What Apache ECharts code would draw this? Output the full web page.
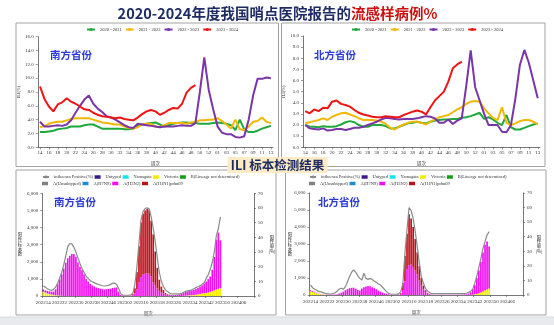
<!DOCTYPE html>
<html><head><meta charset="utf-8">
<script src="https://cdn.jsdelivr.net/npm/echarts@6/dist/echarts.min.js"></script>
<style>html,body{margin:0;padding:0;background:#fff}#c{width:554px;height:325px}</style>
</head><body><div id="c"></div>
<script>
// ---------- top charts: ILI% by week ----------
const topWeeks = ['14','15','16','17','18','19','20','21','22','23','24','25','26','27','28','29','30','31','32','33','34','35','36','37','38','39','40','41','42','43','44','45','46','47','48','49','50','51','52','53','01','02','03','04','05','06','07','08','09','10','11','12','13'];
const seasonNames = ['2020 - 2021','2021 - 2022','2022 - 2023','2023 - 2024'];
const seasonColors = ['#1fa83c','#f2b705','#7a35a6','#ee1515'];

const south2020 = [2.2,2.2,2.3,2.4,2.6,2.7,2.8,3.0,3.0,3.0,3.2,3.3,3.3,3.0,2.7,2.7,2.7,2.7,2.7,2.6,2.6,2.7,3.1,3.3,3.4,3.5,3.6,3.3,3.0,3.2,3.4,3.5,3.6,3.6,3.5,3.5,3.4,3.4,3.4,3.5,3.6,3.5,3.4,3.2,2.5,4.0,2.6,2.2,2.2,2.4,2.7,2.9,3.1];
const south2021 = [2.9,3.1,3.4,3.6,3.7,3.7,3.9,4.1,4.2,4.2,4.2,4.2,4.0,3.8,3.6,3.5,3.4,3.3,3.3,3.0,2.8,2.7,2.9,3.3,3.4,3.4,3.0,2.9,3.2,3.5,3.5,3.5,3.5,3.4,3.6,3.7,3.9,3.9,4.0,4.0,4.2,3.8,3.3,2.7,4.0,2.6,2.5,3.0,3.7,3.8,4.3,3.7,3.5];
const south2022 = [3.7,3.0,3.0,3.1,3.2,3.1,3.3,3.9,5.0,6.0,6.9,7.5,6.3,5.6,5.1,4.5,4.3,4.0,3.6,3.2,2.9,2.8,3.4,3.3,3.2,3.1,3.0,2.9,3.0,3.0,3.0,3.1,3.2,3.1,3.1,3.5,8.0,13.0,8.3,5.5,3.0,2.1,1.9,1.9,1.5,1.4,1.6,4.0,7.5,9.9,9.9,10.1,10.0];
const south2023 = [8.8,7.0,5.9,5.2,6.2,6.5,7.1,6.6,6.3,5.9,5.5,5.4,5.0,4.7,4.5,4.4,4.3,4.2,4.3,4.1,4.0,3.9,4.3,4.8,5.2,5.4,5.2,4.7,5.0,5.4,5.7,5.6,6.3,7.9,8.6,9.0];

const north2020 = [2.0,1.85,1.85,1.8,1.9,1.85,1.85,1.9,2.05,2.25,2.35,2.25,2.0,1.85,1.85,2.0,2.0,2.0,1.9,1.7,1.7,1.85,2.0,2.15,2.2,2.3,2.2,2.15,2.3,2.4,2.45,2.5,2.5,2.55,2.55,2.65,2.7,2.8,2.95,3.1,2.55,2.7,2.5,2.2,2.0,2.9,1.8,1.6,1.6,1.75,1.9,2.05,2.15];
const north2021 = [2.15,2.25,2.35,2.45,2.6,2.45,2.75,2.9,3.05,3.1,2.95,2.8,2.6,2.45,2.45,2.45,2.4,2.3,2.1,1.75,1.6,1.85,2.05,2.2,2.3,2.3,2.2,2.05,2.3,2.5,2.7,2.8,2.9,3.15,3.4,3.6,3.9,4.1,4.15,4.1,3.5,3.05,2.65,2.45,3.6,2.2,2.0,2.15,2.35,2.45,2.45,2.3,2.05];
const north2022 = [2.0,1.7,1.65,1.6,1.7,1.5,1.55,1.65,1.65,1.55,1.65,1.75,1.75,1.85,2.0,2.15,2.3,2.5,2.65,2.6,2.55,2.5,2.55,2.55,2.55,2.6,2.7,2.8,2.75,2.6,2.2,2.2,2.5,2.1,2.4,2.6,5.5,8.7,5.4,4.2,3.0,2.0,2.0,2.0,1.4,1.35,2.0,4.4,7.4,8.75,7.6,6.0,4.4];
const north2023 = [3.25,3.05,3.4,3.25,3.55,3.5,4.1,4.2,3.9,3.8,3.65,3.35,3.1,2.95,2.85,2.75,2.7,2.7,2.8,2.75,2.7,2.7,2.9,3.05,3.2,3.3,3.2,2.95,3.6,4.2,4.6,5.0,5.9,7.1,7.45,7.7];

const topLeftTicks = [0,2,4,6,8,10,12,14,16];
const topRightTicks = [0,1,2,3,4,5,6,7,8,9,10];

// ---------- bottom charts: positive specimens by week ----------
const weekStartYear = 2022, weekStart = 14, weeksIn = {2022:52, 2023:52, 2024:52}, weekCount = 104;
const specWeeks = [];
(function(){ let y = weekStartYear, w = weekStart; for (let k = 0; k < weekCount; k++) { specWeeks.push(String(y) + (w < 10 ? '0' : '') + w); w++; if (w > weeksIn[y]) { w = 1; y++; } } })();

const southH3N2 = [130,120,150,150,160,200,350,650,950,1250,1600,1950,2200,2350,2450,2450,2300,1950,1700,1500,1250,1000,850,700,620,560,500,460,430,410,380,400,420,430,470,490,500,250,60,30,20,20,20,30,40,150,400,800,1100,1250,1300,1330,1300,1150,800,650,450,300,200,150,80,60,60,50,50,60,80,100,130,170,220,250,270,290,310,330,370,430,490,570,660,780,900,1250,1950,2900,3280,2800];
const southVictoria = [250,200,150,120,90,60,40,30,20,10,0,0,0,0,0,0,0,0,0,0,0,0,0,0,0,0,0,0,0,0,0,0,0,0,0,0,0,0,0,0,0,0,0,0,0,0,0,0,0,0,0,0,0,0,0,0,0,0,0,0,0,0,0,0,0,0,0,0,0,10,20,30,40,50,60,80,100,120,140,160,180,210,240,280,330,380,420,450];
const southH1N1 = [0,0,0,0,0,0,0,0,0,0,0,0,0,0,0,0,0,0,0,0,0,0,0,0,0,0,0,0,0,0,0,0,0,0,0,0,0,0,0,0,0,0,0,0,60,300,1000,2100,3200,3550,3700,3770,3750,3250,2800,1950,1200,650,350,200,90,40,20,10,0,0,0,0,0,0,0,0,0,0,0,0,0,0,0,0,0,0,0,0,0,0,0,0];
const southPositive = [7.0,5.9,5.0,4.3,3.8,4.5,6.1,8.4,12.0,16.1,21.1,27.2,33.5,35.8,35.5,33.3,30.1,26.0,22.2,18.8,16.1,13.6,12.0,10.6,9.7,9.1,8.4,7.9,7.5,7.0,6.8,7.0,7.2,7.9,8.6,8.8,7.9,5.2,1.8,0.7,0.5,0.5,0.6,0.8,1.8,8.0,20.0,36.0,52.0,57.5,59.6,60.2,59.5,54.0,46.0,37.0,26.0,16.0,10.0,6.5,4.2,3.0,2.0,1.4,1.4,1.4,1.4,1.4,1.8,2.5,3.2,3.6,3.8,4.3,5.0,5.7,6.3,7.0,7.9,9.1,12.0,14.5,18.0,23.0,30.0,41.0,46.0,54.0];

const northH3N2 = [60,50,40,30,20,15,10,10,10,10,10,15,25,40,80,130,200,280,350,400,420,430,370,300,260,380,450,500,530,520,460,400,340,260,200,150,100,70,40,20,10,10,20,30,50,300,800,1500,1750,1800,1650,1450,1200,850,550,330,180,80,40,20,15,10,10,10,10,10,10,10,15,15,15,15,20,20,25,30,40,70,145,330,560,940,1350,1800,2300,2690,2830,2470];
const northVictoria = [220,180,150,100,70,40,20,10,0,0,0,0,0,0,0,0,0,0,0,0,0,0,0,0,0,0,0,0,0,0,0,0,0,0,0,0,0,0,0,0,0,0,0,0,0,0,0,0,0,0,0,0,0,0,0,0,0,0,0,0,0,0,0,0,0,0,0,0,0,0,0,0,0,0,0,0,0,10,15,20,40,60,100,150,200,260,320,380];
const northH1N1 = [0,0,0,0,0,0,0,0,0,0,0,0,0,0,0,0,0,0,0,0,0,0,0,0,0,0,0,0,0,0,0,0,0,0,0,0,0,0,0,0,0,0,0,0,50,400,1500,2100,3000,2700,2350,1850,1300,850,450,220,100,40,20,0,0,0,0,0,0,0,0,0,0,0,0,0,0,0,0,0,0,0,0,0,0,0,0,0,0,0,0,0];
const northPositive = [7.0,5.0,3.9,3.2,2.5,2.1,1.6,1.1,0.9,0.7,0.7,0.9,1.6,2.7,4.1,4.6,3.9,5.7,9.1,12.6,15.6,17.2,15.6,13.3,11.4,10.3,14.9,11.4,10.7,11.4,10.7,9.6,8.7,7.5,6.9,5.5,3.9,2.3,1.1,0.7,0.5,0.5,0.5,0.9,2.3,8.0,29.0,45.0,60.0,58.0,52.6,43.5,33.2,21.7,12.6,8.0,4.6,2.7,1.6,1.0,0.9,0.9,0.9,0.9,0.9,0.9,0.9,0.9,0.9,0.9,0.9,0.9,0.9,1.0,1.0,1.0,1.2,1.8,2.5,4.0,8.0,13.0,19.0,25.0,32.0,36.6,41.2,43.5];

const emptySeries = [];
const legendRow1 = ['influenza Positive(%)','Untyped','Yamagata','Victoria','B(Lineage not determined)'];
const legendRow2 = ['A(Unsubtyped)','A(H7N9)','A(H3N2)','A(H1N1)pdm09'];
const subtypeColors = {'Untyped':'#3a1a8a','Yamagata':'#19e3ea','Victoria':'#f0ee00','B(Lineage not determined)':'#13a013','A(Unsubtyped)':'#808080','A(H7N9)':'#1d8fd6','A(H3N2)':'#f20ff2','A(H1N1)pdm09':'#c01018'};

// ---------- build option ----------
const serif = 'Liberation Serif';
const cjk = 'Noto Sans CJK SC';
const axisLineStyle = {lineStyle:{color:'#555', width:0.8}};
const smallLabel = {fontSize:5, fontFamily:serif, color:'#333'};

function topX(grid) {
  return {type:'category', gridIndex:grid, data:topWeeks, boundaryGap:true,
    axisLine:axisLineStyle, axisTick:{show:true, interval:1, length:2, alignWithLabel:true, lineStyle:{color:'#555',width:0.6}},
    axisLabel:Object.assign({interval:1, margin:3}, smallLabel),
    name:'周次', nameLocation:'middle', nameGap:14, nameTextStyle:{fontSize:4.5, fontFamily:cjk, color:'#333'}};
}
function topY(grid, ticks) {
  return {type:'value', gridIndex:grid, min:ticks[0], max:ticks[ticks.length-1], interval:ticks[1]-ticks[0],
    splitLine:{show:false}, axisLine:Object.assign({show:true}, axisLineStyle),
    axisTick:{show:true, length:2, lineStyle:{color:'#555',width:0.6}},
    axisLabel:Object.assign({margin:4, formatter:v=>v.toFixed(1)}, smallLabel),
    name:'ILI(%)', nameLocation:'middle', nameRotate:90, nameGap:16, nameTextStyle:{fontSize:4.5, fontFamily:serif, color:'#333'}};
}
function botX(grid) {
  return {type:'category', gridIndex:grid, data:specWeeks, boundaryGap:true,
    axisLine:axisLineStyle, axisTick:{show:true, interval:7, length:2, lineStyle:{color:'#555',width:0.6}},
    axisLabel:Object.assign({interval:7, margin:4}, smallLabel),
    name:'周次', nameLocation:'middle', nameGap:15, nameTextStyle:{fontSize:4.5, fontFamily:cjk, color:'#333'}};
}
function botYL(grid) {
  return {type:'value', gridIndex:grid, min:0, max:6000, interval:1000, position:'left',
    splitLine:{show:false}, axisLine:Object.assign({show:true}, axisLineStyle),
    axisTick:{show:true, length:2, lineStyle:{color:'#555',width:0.6}},
    axisLabel:Object.assign({margin:4, formatter:v=>v.toLocaleString('en-US')}, smallLabel)};
}
function botYR(grid) {
  return {type:'value', gridIndex:grid, min:0, max:70, interval:10, position:'right',
    splitLine:{show:false}, axisLine:Object.assign({show:true}, axisLineStyle),
    axisTick:{show:true, length:2, lineStyle:{color:'#555',width:0.6}},
    axisLabel:Object.assign({margin:4}, smallLabel)};
}

const topSouth = [south2020, south2021, south2022, south2023];
const topNorth = [north2020, north2021, north2022, north2023];
const series = [];
[topSouth, topNorth].forEach((set, gi) => {
  set.forEach((arr, k) => series.push({
    type:'line', name:seasonNames[k], xAxisIndex:gi, yAxisIndex:gi, data:arr,
    symbol:'circle', symbolSize:3, showSymbol:false, lineStyle:{width:2, color:seasonColors[k]},
    itemStyle:{color:seasonColors[k]}, z:2+k
  }));
});
function barSeries(name, data, xi, yi, stack) {
  return {type:'bar', name, data, xAxisIndex:xi, yAxisIndex:yi, stack, barCategoryGap:'18%',
    itemStyle:{color:subtypeColors[name]}};
}
// south (grid 2): axes x2, y2 left, y3 right
series.push({type:'line', name:'influenza Positive(%)', data:southPositive, xAxisIndex:2, yAxisIndex:3, symbol:'none', lineStyle:{color:'#8a8a8a', width:1.2}, itemStyle:{color:'#8a8a8a'}, z:5});
['Untyped','Yamagata','B(Lineage not determined)','A(Unsubtyped)','A(H7N9)'].forEach(n => series.push(barSeries(n, emptySeries, 2, 2, 'south')));
series.push(barSeries('Victoria', southVictoria, 2, 2, 'south'));
series.push(barSeries('A(H3N2)', southH3N2, 2, 2, 'south'));
series.push(barSeries('A(H1N1)pdm09', southH1N1, 2, 2, 'south'));
// north (grid 3): axes x3, y4 left, y5 right
series.push({type:'line', name:'influenza Positive(%)', data:northPositive, xAxisIndex:3, yAxisIndex:5, symbol:'none', lineStyle:{color:'#8a8a8a', width:1.2}, itemStyle:{color:'#8a8a8a'}, z:5});
series.push(barSeries('Victoria', northVictoria, 3, 4, 'north'));
series.push(barSeries('A(H3N2)', northH3N2, 3, 4, 'north'));
series.push(barSeries('A(H1N1)pdm09', northH1N1, 3, 4, 'north'));

const legTxt = {fontSize:4.5, fontFamily:serif, color:'#333'};
function topLegend(left) {
  return {left, top:27, itemWidth:8, itemHeight:4, itemGap:3, textStyle:legTxt, data:seasonNames, padding:0};
}
function botLegend(left, top, names) {
  return {left, top, itemWidth:6, itemHeight:3.5, itemGap:1.5, textStyle:legTxt, padding:0,
    data:names.map(n => n === 'influenza Positive(%)' ? {name:n} : {name:n, icon:'rect'})};
}

const navy = '#1e2c63';
const regionBlue = '#2b3ad4';
function regionLabel(x, y, t) {
  return {type:'text', x, y, style:{text:t, fontSize:10.5, fontWeight:'bold', fontFamily:cjk, fill:regionBlue, align:'center', verticalAlign:'middle'}, z:50};
}
function vname(x, y, t) {
  return {type:'text', x, y, style:{text:t, fontSize:4.5, lineHeight:4.8, fontFamily:cjk, fill:'#333', align:'center', verticalAlign:'middle'}, z:50};
}
function panel(x, y, w, h) {
  return {type:'rect', shape:{x, y, width:w, height:h}, style:{fill:'none', stroke:'#a3a3a3', lineWidth:1}, z:1};
}

const option = {
  animation:false,
  backgroundColor:'#ffffff',
  grid:[
    {left:37.8, top:36.7, width:235.3, height:110.6},
    {left:303, top:36, width:237, height:111.3},
    {left:42.3, top:193.3, width:211.7, height:102.7},
    {left:309.5, top:193, width:213.5, height:102}
  ],
  xAxis:[topX(0), topX(1), botX(2), botX(3)],
  yAxis:[topY(0, topLeftTicks), topY(1, topRightTicks), botYL(2), botYR(2), botYL(3), botYR(3)],
  legend:[topLegend(86), topLegend(351), botLegend(42, 174.5, legendRow1), botLegend(42, 181, legendRow2), botLegend(309, 174.5, legendRow1), botLegend(309, 181, legendRow2)],
  series,
  graphic:[
    {type:'rect', shape:{x:0, y:317, width:554, height:8}, style:{fill:'#e8eaee'}, z:0},
    {type:'line', shape:{x1:0, y1:317, x2:554, y2:317}, style:{stroke:'#d6d9de', lineWidth:1}, z:0},
    panel(16, 23, 262.5, 143.5),
    panel(281.5, 23, 263.5, 143.5),
    panel(16, 170, 260, 145),
    panel(285.5, 170, 260.5, 145),
    {type:'text', x:277.5, y:13, style:{text:'{a|2020-2024年度我国哨点医院报告的}{b|流感样病例%}', align:'center', verticalAlign:'middle',
      rich:{a:{fontSize:14.5, fontWeight:'bold', fontFamily:cjk, fill:navy, color:navy}, b:{fontSize:14.5, fontWeight:'bold', fontFamily:cjk, fill:'#cc1010', color:'#cc1010'}}}, z:50},
    regionLabel(71, 55, '南方省份'),
    regionLabel(335, 55, '北方省份'),
    regionLabel(75, 202, '南方省份'),
    regionLabel(339, 202, '北方省份'),
    {type:'rect', shape:{x:227.5, y:157, width:100, height:16}, style:{fill:'#fcebc4'}, z:60},
    {type:'text', x:277.5, y:165.5, style:{text:'ILI 标本检测结果', fontSize:12.5, fontWeight:'bold', fontFamily:cjk, fill:navy, align:'center', verticalAlign:'middle'}, z:61},
    vname(20, 244, '阳\n性\n标\n本\n数'),
    vname(272, 244, '阳\n性\n率\n(%)'),
    vname(290, 244, '阳\n性\n标\n本\n数'),
    vname(539, 244, '阳\n性\n率\n(%)')
  ]
};
const chart = echarts.init(document.getElementById('c'), null, {renderer:'canvas'});
chart.setOption(option);
</script></body></html>
